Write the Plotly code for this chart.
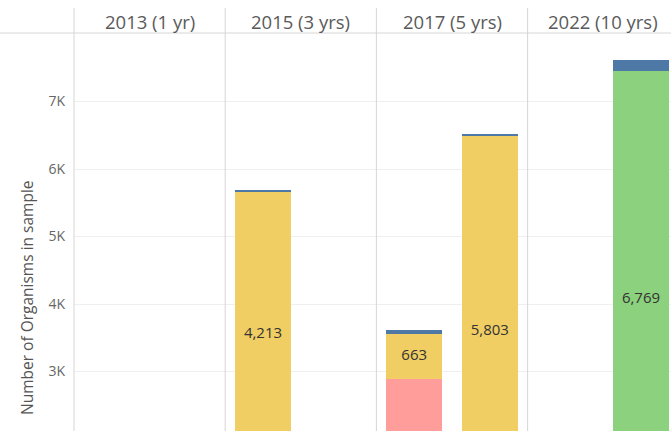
import plotly.graph_objects as go

# ---- data ----
panels = ["2013 (1 yr)", "2015 (3 yrs)", "2017 (5 yrs)", "2022 (10 yrs)"]
groups = ["A", "B"]
slots = [f"{p} | {g}" for p in panels for g in groups]

series_names = ["Pink group", "Yellow group", "Green group", "Blue group"]
pink = [None, None, 1449, None, 2892, 689, None, 690]
yellow = [None, None, 4213, None, 663, 5803, None, None]
green = [None, None, None, None, None, None, None, 6769]
blue = [None, None, 28, None, 63, 22, None, 159]

y_ticks = [3000, 4000, 5000, 6000, 7000]
y_tick_labels = ["3K", "4K", "5K", "6K", "7K"]
y_title = "Number of Organisms in sample"

# ---- styling ----
colors = ["#FF9D9A", "#F1CE63", "#8CD17D", "#4E79A7"]
labelled = [True, True, True, False]
FONT = "Open Sans"
W, H = 671, 431
ML, MT = 74, 34
plot_w = W - ML
plot_h = H - MT
cat_px = 75.6
x_max = -0.5 + plot_w / cat_px
y_top = 8000
y_bottom = y_top - plot_h / 0.0675

fig = go.Figure()
all_series = [pink, yellow, green, blue]
bases = [0] * len(slots)
label_x, label_y, label_t = [], [], []
for name, vals, col, lab in zip(series_names, all_series, colors, labelled):
    fig.add_trace(go.Bar(x=slots, y=vals, name=name, marker=dict(color=col, line=dict(width=0)),
                         hoverinfo="x+y+name"))
    for i, v in enumerate(vals):
        if v is None:
            continue
        mid = bases[i] + v / 2
        if lab and mid > y_bottom + 150:
            label_x.append(slots[i])
            label_y.append(mid)
            label_t.append(f"{v:,}")
        bases[i] += v

fig.add_trace(go.Scatter(x=label_x, y=label_y, text=label_t, mode="text",
                         textfont=dict(family=FONT, size=15, color="#333333"),
                         showlegend=False, hoverinfo="skip"))

line_col = "#d6d6d6"
shapes = []
# panel dividers
for k in range(1, len(panels)):
    xd = k * len(groups) - 0.5
    shapes.append(dict(type="line", xref="x", yref="paper", x0=xd, x1=xd,
                       y0=0, y1=1 + 26 / plot_h, line=dict(color=line_col, width=1)))
# left axis line
shapes.append(dict(type="line", xref="paper", yref="paper", x0=0, x1=0,
                   y0=0, y1=1 + 26 / plot_h, line=dict(color=line_col, width=1)))
# header underline
shapes.append(dict(type="line", xref="paper", yref="paper", x0=-ML / plot_w, x1=1,
                   y0=1 + 1 / plot_h, y1=1 + 1 / plot_h, line=dict(color=line_col, width=1)))

annotations = []
for k, p in enumerate(panels):
    annotations.append(dict(text=p, xref="x", yref="paper", x=k * len(groups) + 0.5,
                            y=1 + 12 / plot_h, yanchor="middle", xanchor="center",
                            showarrow=False, font=dict(family=FONT, size=18.5, color="#5a5a5a")))
annotations.append(dict(text=y_title, xref="paper", yref="paper", x=(27 - ML) / plot_w,
                        y=(H - 298) / plot_h, textangle=-90, showarrow=False,
                        xanchor="center", yanchor="middle",
                        font=dict(family=FONT, size=15.5, color="#555555")))

fig.update_layout(
    width=W, height=H,
    margin=dict(l=ML, r=0, t=MT, b=0),
    barmode="stack", bargap=1 - 56 / cat_px,
    plot_bgcolor="white", paper_bgcolor="white",
    showlegend=False,
    shapes=shapes, annotations=annotations,
    font=dict(family=FONT),
    xaxis=dict(type="category", categoryorder="array", categoryarray=slots,
               range=[-0.5, x_max], showticklabels=False, showgrid=False,
               zeroline=False, showline=False, ticks=""),
    yaxis=dict(range=[y_bottom, y_top], tickvals=y_ticks, ticktext=y_tick_labels,
               showgrid=True, gridcolor="#efefef", gridwidth=1, zeroline=False,
               showline=False, ticks="", ticklabelstandoff=8,
               tickfont=dict(family=FONT, size=14, color="#666666")),
)

fig.write_html("out.html", config={"displayModeBar": False},
               post_script="document.body.style.margin='0';document.body.style.overflow='hidden';")
